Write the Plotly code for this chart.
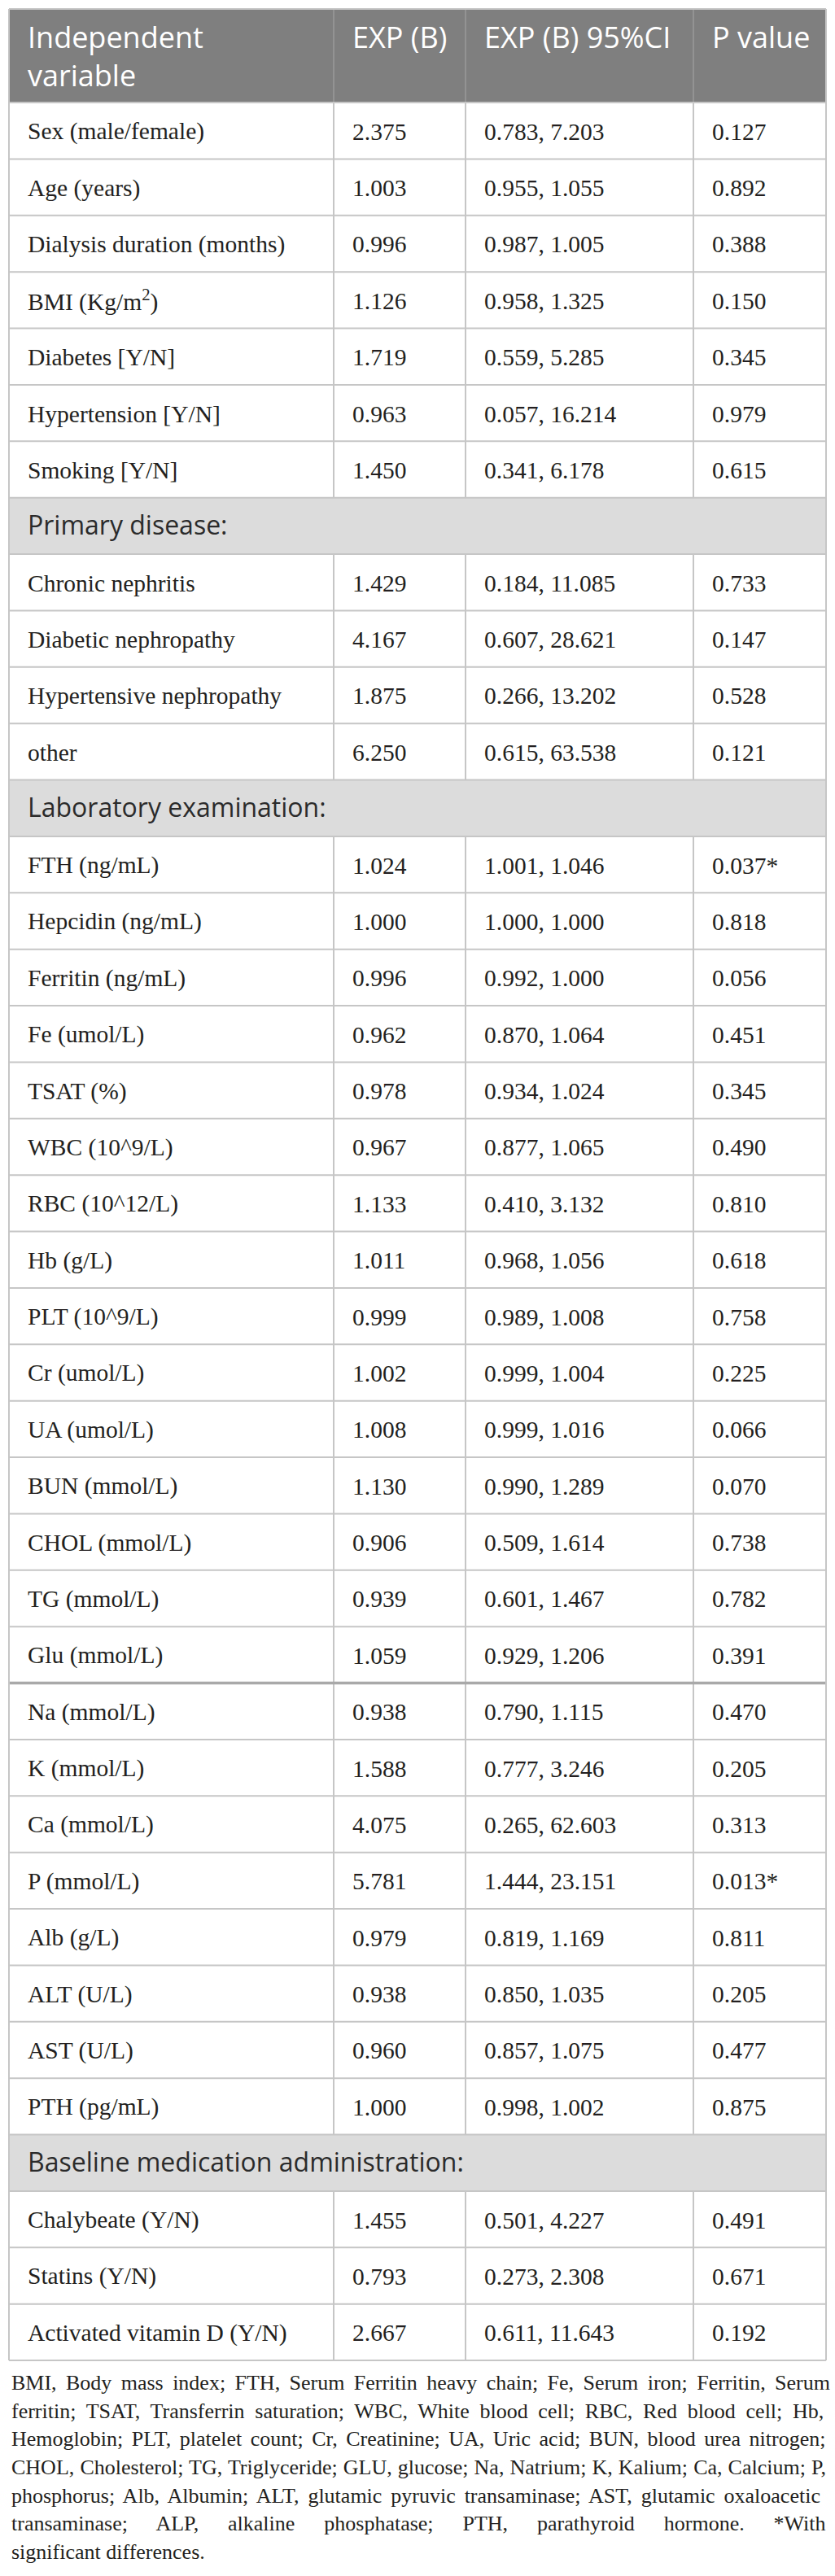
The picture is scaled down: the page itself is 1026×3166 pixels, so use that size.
import plotly.graph_objects as go

# ---- table content ----
HEADERS = ["Independent<br>variable", "EXP (B)", "EXP (B) 95%CI", "P value"]

GROUP_TITLES = [None, "Primary disease:", "Laboratory examination:", "Baseline medication administration:"]
GROUP_SIZES = [7, 4, 23, 3]

VARIABLES = [
    "Sex (male/female)", "Age (years)", "Dialysis duration (months)", "BMI (Kg/m<sup>2</sup>)",
    "Diabetes [Y/N]", "Hypertension [Y/N]", "Smoking [Y/N]",
    "Chronic nephritis", "Diabetic nephropathy", "Hypertensive nephropathy", "other",
    "FTH (ng/mL)", "Hepcidin (ng/mL)", "Ferritin (ng/mL)", "Fe (umol/L)", "TSAT (%)",
    "WBC (10^9/L)", "RBC (10^12/L)", "Hb (g/L)", "PLT (10^9/L)", "Cr (umol/L)",
    "UA (umol/L)", "BUN (mmol/L)", "CHOL (mmol/L)", "TG (mmol/L)", "Glu (mmol/L)",
    "Na (mmol/L)", "K (mmol/L)", "Ca (mmol/L)", "P (mmol/L)", "Alb (g/L)",
    "ALT (U/L)", "AST (U/L)", "PTH (pg/mL)",
    "Chalybeate (Y/N)", "Statins (Y/N)", "Activated vitamin D (Y/N)",
]
EXP_B = [2.375, 1.003, 0.996, 1.126, 1.719, 0.963, 1.450,
         1.429, 4.167, 1.875, 6.250,
         1.024, 1.000, 0.996, 0.962, 0.978, 0.967, 1.133, 1.011, 0.999, 1.002,
         1.008, 1.130, 0.906, 0.939, 1.059, 0.938, 1.588, 4.075, 5.781, 0.979,
         0.938, 0.960, 1.000,
         1.455, 0.793, 2.667]
CI_LOW = [0.783, 0.955, 0.987, 0.958, 0.559, 0.057, 0.341,
          0.184, 0.607, 0.266, 0.615,
          1.001, 1.000, 0.992, 0.870, 0.934, 0.877, 0.410, 0.968, 0.989, 0.999,
          0.999, 0.990, 0.509, 0.601, 0.929, 0.790, 0.777, 0.265, 1.444, 0.819,
          0.850, 0.857, 0.998,
          0.501, 0.273, 0.611]
CI_HIGH = [7.203, 1.055, 1.005, 1.325, 5.285, 16.214, 6.178,
           11.085, 28.621, 13.202, 63.538,
           1.046, 1.000, 1.000, 1.064, 1.024, 1.065, 3.132, 1.056, 1.008, 1.004,
           1.016, 1.289, 1.614, 1.467, 1.206, 1.115, 3.246, 62.603, 23.151, 1.169,
           1.035, 1.075, 1.002,
           4.227, 2.308, 11.643]
P_VALUE = [0.127, 0.892, 0.388, 0.150, 0.345, 0.979, 0.615,
           0.733, 0.147, 0.528, 0.121,
           0.037, 0.818, 0.056, 0.451, 0.345, 0.490, 0.810, 0.618, 0.758, 0.225,
           0.066, 0.070, 0.738, 0.782, 0.391, 0.470, 0.205, 0.313, 0.013, 0.811,
           0.205, 0.477, 0.875,
           0.491, 0.671, 0.192]
DIVIDER_AFTER = "Glu (mmol/L)"  # heavier rule below this row

FOOTNOTE_LINES = [
    "BMI, Body mass index; FTH, Serum Ferritin heavy chain; Fe, Serum iron; Ferritin, Serum",
    "ferritin; TSAT, Transferrin saturation; WBC, White blood cell; RBC, Red blood cell; Hb,",
    "Hemoglobin; PLT, platelet count; Cr, Creatinine; UA, Uric acid; BUN, blood urea nitrogen;",
    "CHOL, Cholesterol; TG, Triglyceride; GLU, glucose; Na, Natrium; K, Kalium; Ca, Calcium; P,",
    "phosphorus; Alb, Albumin; ALT, glutamic pyruvic transaminase; AST, glutamic oxaloacetic",
    "transaminase; ALP, alkaline phosphatase; PTH, parathyroid hormone. *With",
    "significant differences.",
]

# ---- page geometry / style ----
W, H = 1026, 3166
COL_X = [11, 410, 572, 852, 1015]
HEADER_TOP, HEADER_BOT = 11, 126
ROW_H = 69.375
PAD = 21

SERIF = "Liberation Serif"
SANS = "Open Sans"
BODY_SIZE = 29.5
HEAD_SIZE = 36
SECT_SIZE = 32
NOTE_SIZE = 26
TEXT = "#231f20"
GRID = "#c6c6c6"
HEAD_FILL = "#7f7f7f"
SECT_FILL = "#dcdcdc"

# Times/Liberation Serif advance widths (1/1000 em), used to justify the footnote
TIMES_W = {" ": 250, ",": 250, ".": 250, ";": 278, ":": 278, "*": 500,
           "(": 333, ")": 333, "/": 278, "-": 333}
TIMES_W.update(zip("abcdefghijklmnopqrstuvwxyz",
                   [444, 500, 444, 500, 444, 333, 500, 500, 278, 278, 500, 278, 778,
                    500, 500, 500, 500, 333, 389, 278, 500, 500, 722, 500, 500, 444]))
TIMES_W.update(zip("ABCDEFGHIJKLMNOPQRSTUVWXYZ",
                   [722, 667, 667, 722, 611, 556, 722, 722, 333, 389, 722, 611, 889,
                    722, 722, 556, 722, 667, 556, 611, 722, 722, 944, 722, 722, 611]))


def text_width(s, size):
    return sum(TIMES_W.get(ch, 500) for ch in s) * size / 1000.0


def serif_center(baseline, size):
    # annotation boxes are centred on y; move from baseline to box centre
    return baseline - 0.3375 * size


def sans_center(baseline, size):
    return baseline - 0.388 * size


# ---- build row list ----
rows = []
vi = 0
for title, n in zip(GROUP_TITLES, GROUP_SIZES):
    if title:
        rows.append(("section", title))
    for _ in range(n):
        rows.append(("data", vi))
        vi += 1

n_rows = len(rows)
row_top = [HEADER_BOT + k * ROW_H for k in range(n_rows + 1)]
table_bot = row_top[-1]

shapes = []
annotations = []


def hline(y, color=GRID, width=2):
    shapes.append(dict(type="line", xref="x", yref="y", x0=COL_X[0], x1=COL_X[-1],
                       y0=y, y1=y, line=dict(color=color, width=width)))


def vline(x, y0, y1, color=GRID, width=2):
    shapes.append(dict(type="line", xref="x", yref="y", x0=x, x1=x,
                       y0=y0, y1=y1, line=dict(color=color, width=width)))


# fills
shapes.append(dict(type="rect", xref="x", yref="y", x0=COL_X[0], x1=COL_X[-1],
                   y0=HEADER_TOP, y1=HEADER_BOT, fillcolor=HEAD_FILL, line=dict(width=0)))
for k, (kind, _) in enumerate(rows):
    if kind == "section":
        shapes.append(dict(type="rect", xref="x", yref="y", x0=COL_X[0], x1=COL_X[-1],
                           y0=row_top[k], y1=row_top[k + 1], fillcolor=SECT_FILL,
                           line=dict(width=0)))

# header column separators
for x in COL_X[1:-1]:
    vline(x, HEADER_TOP, HEADER_BOT, color="#9a9a9a", width=1.5)

# inner vertical rules, per run of data rows
k = 0
while k < n_rows:
    if rows[k][0] == "data":
        start = k
        while k < n_rows and rows[k][0] == "data":
            k += 1
        for x in COL_X[1:-1]:
            vline(x, row_top[start], row_top[k])
    else:
        k += 1

# horizontal rules
hline(HEADER_TOP)
for k in range(n_rows + 1):
    hline(row_top[k])
for k, (kind, idx) in enumerate(rows):
    if kind == "data" and VARIABLES[idx] == DIVIDER_AFTER:
        hline(row_top[k + 1], color="#a9a9a9", width=3.5)

# outer vertical rules
vline(COL_X[0], HEADER_TOP, table_bot)
vline(COL_X[-1], HEADER_TOP, table_bot)

# header text (top aligned, first baseline ~58px)
for c, label in enumerate(HEADERS):
    annotations.append(dict(
        x=COL_X[c] + PAD, y=58 - 1 - 1.069 * HEAD_SIZE,
        xref="x", yref="y", text=label, showarrow=False,
        xanchor="left", yanchor="top", align="left",
        font=dict(family=SANS, size=HEAD_SIZE, color="white")))

# body text
for k, (kind, val) in enumerate(rows):
    base = row_top[k] + 45.7
    if kind == "section":
        annotations.append(dict(
            x=COL_X[0] + PAD, y=sans_center(base, SECT_SIZE), xref="x", yref="y",
            text=val, showarrow=False, xanchor="left", yanchor="middle",
            font=dict(family=SANS, size=SECT_SIZE, color="#2b2b2b")))
        continue
    p = P_VALUE[val]
    cells = [
        VARIABLES[val],
        f"{EXP_B[val]:.3f}",
        f"{CI_LOW[val]:.3f}, {CI_HIGH[val]:.3f}",
        f"{p:.3f}" + ("*" if p < 0.05 else ""),
    ]
    for c, txt in enumerate(cells):
        annotations.append(dict(
            x=COL_X[c] + PAD, y=serif_center(base, BODY_SIZE), xref="x", yref="y",
            text=txt, showarrow=False, xanchor="left", yanchor="middle",
            font=dict(family=SERIF, size=BODY_SIZE, color=TEXT)))

# footnote, justified line by line with word spacing
NOTE_LEFT, NOTE_WIDTH = 12, 1006
for li, line in enumerate(FOOTNOTE_LINES):
    txt = line
    if li < len(FOOTNOTE_LINES) - 1:
        gaps = line.count(" ")
        extra = (NOTE_WIDTH - text_width(line, NOTE_SIZE)) / max(gaps, 1)
        txt = f'<span style="word-spacing:{extra:.2f}px">{line}</span>'
    annotations.append(dict(
        x=NOTE_LEFT, y=serif_center(table_bot + 36.5 + li * 34.6, NOTE_SIZE),
        xref="x", yref="y", text=txt, showarrow=False,
        xanchor="left", yanchor="middle",
        font=dict(family=SERIF, size=NOTE_SIZE, color=TEXT)))

fig = go.Figure()
fig.update_layout(
    width=W, height=H,
    margin=dict(l=0, r=0, t=0, b=0),
    paper_bgcolor="white", plot_bgcolor="white",
    xaxis=dict(range=[0, W], visible=False, fixedrange=True),
    yaxis=dict(range=[H, 0], visible=False, fixedrange=True),
    shapes=shapes, annotations=annotations,
    showlegend=False,
)

fig.write_html("out.html", config={"displayModeBar": False},
               post_script="document.body.style.margin='0';")
